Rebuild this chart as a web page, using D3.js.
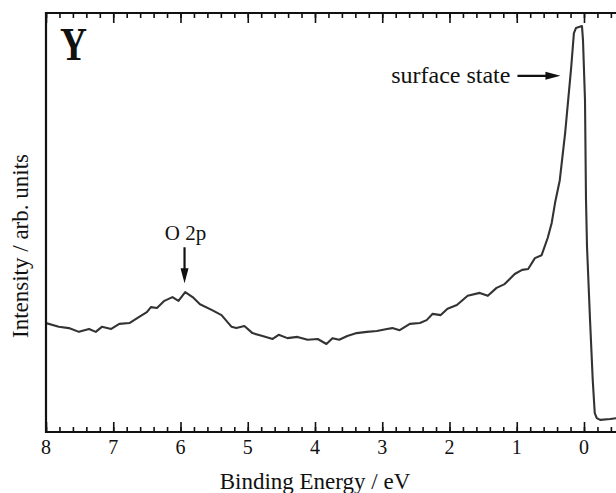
<!DOCTYPE html>
<html lang="en">
<head>
    <meta charset="UTF-8">
    <title>Y surface state spectrum</title>
    <script src="https://cdnjs.cloudflare.com/ajax/libs/d3/7.8.5/d3.min.js"></script>
    <style>
        * {
            margin: 0;
            padding: 0;
        }

        body {
            background-color: white;
            overflow: hidden;
        }

        text {
            font-family: 'Liberation Serif', 'Times New Roman', serif;
            fill: #111;
        }
    </style>
</head>
<body>
    <div id="chart"></div>

    <script>
        // Spectrum: binding energy (eV) and intensity (arb. units)
        const energy = [
            8.00, 7.81, 7.66, 7.51, 7.36, 7.26, 7.17, 7.03, 6.91, 6.76,
            6.62, 6.50, 6.44, 6.35, 6.24, 6.12, 6.03, 5.93, 5.82, 5.71,
            5.53, 5.39, 5.24, 5.17, 5.05, 4.93, 4.78, 4.63, 4.54, 4.41,
            4.26, 4.11, 3.96, 3.83, 3.74, 3.64, 3.52, 3.38, 3.23, 3.08,
            2.93, 2.85, 2.74, 2.59, 2.44, 2.34, 2.25, 2.13, 2.03, 1.89,
            1.73, 1.55, 1.43, 1.30, 1.18, 1.03, 0.92, 0.83, 0.73, 0.63,
            0.54, 0.48, 0.43, 0.36, 0.28, 0.19, 0.15, 0.12, 0.03, 0.015,
            -0.015, -0.03, -0.045, -0.09, -0.13, -0.16, -0.19, -0.24, -0.39, -0.48
        ];
        const intensity = [
            26.0, 25.1, 24.8, 23.9, 24.6, 23.9, 25.1, 24.6, 25.8, 26.0,
            27.4, 28.6, 29.8, 29.6, 31.3, 32.2, 31.3, 33.4, 32.2, 30.5,
            29.1, 27.9, 25.1, 24.8, 25.3, 23.6, 22.9, 22.2, 23.2, 22.4,
            22.7, 22.0, 22.2, 21.0, 22.4, 22.0, 22.9, 23.6, 23.9, 24.1,
            24.6, 24.8, 24.3, 25.8, 26.0, 26.7, 28.2, 27.9, 29.4, 30.3,
            32.5, 33.2, 32.5, 34.4, 35.3, 37.7, 38.7, 38.9, 41.5, 42.2,
            46.3, 49.9, 54.7, 60.1, 71.4, 87.1, 95.2, 96.4, 96.9, 93.6,
            79.2, 55.4, 44.2, 26.7, 12.4, 4.5, 3.3, 2.9, 3.1, 3.3
        ];
        const majorTicks = [8, 7, 6, 5, 4, 3, 2, 1, 0];
        const minorTicks = d3.range(8, -0.5, -0.2).map(v => +v.toFixed(1));

        const panelLabel = 'Y';
        const xTitle = 'Binding Energy / eV';
        const yTitle = 'Intensity / arb. units';
        const notes = [
            { text: 'surface state', energy: 0.35, value: 85 },
            { text: 'O 2p', energy: 5.94, value: 35.5 }
        ];

        const width = 616;
        const height = 493;
        const margin = { top: 13, right: 0, bottom: 61, left: 46 };

        const svg = d3.select('#chart')
            .append('svg')
            .attr('width', width)
            .attr('height', height);

        const x = d3.scaleLinear()
            .domain([8, -0.476])
            .range([margin.left, width - margin.right]);

        const y = d3.scaleLinear()
            .domain([0, 100])
            .range([height - margin.bottom, margin.top]);

        const data = energy.map((e, i) => ({ e, v: intensity[i] }));

        svg.append('defs').append('clipPath')
            .attr('id', 'plot-clip')
            .append('rect')
            .attr('x', margin.left)
            .attr('y', margin.top)
            .attr('width', width - margin.left - margin.right)
            .attr('height', height - margin.top - margin.bottom);

        // Spectrum
        const line = d3.line()
            .x(d => x(d.e))
            .y(d => y(d.v));

        svg.append('path')
            .datum(data)
            .attr('clip-path', 'url(#plot-clip)')
            .attr('fill', 'none')
            .attr('stroke', '#333')
            .attr('stroke-width', 2.1)
            .attr('stroke-linejoin', 'round')
            .attr('d', line);

        // Bottom axis, ticks pointing inward
        const bottomAxis = svg.append('g')
            .attr('transform', `translate(0,${height - margin.bottom})`);

        bottomAxis.call(d3.axisTop(x).tickValues(minorTicks).tickSize(5).tickFormat(''))
            .call(g => g.select('.domain').remove());
        bottomAxis.append('g')
            .call(d3.axisTop(x).tickValues(majorTicks).tickSize(10).tickFormat(''))
            .call(g => g.select('.domain').remove());
        bottomAxis.selectAll('line').attr('stroke', '#111').attr('stroke-width', 1.6);

        bottomAxis.selectAll('.tick-label')
            .data(majorTicks)
            .enter()
            .append('text')
            .attr('class', 'tick-label')
            .attr('x', d => x(d))
            .attr('y', 22)
            .attr('text-anchor', 'middle')
            .style('font-size', '20px')
            .text(d => d);

        // Top axis, ticks pointing inward
        const topAxis = svg.append('g')
            .attr('transform', `translate(0,${margin.top})`);

        topAxis.call(d3.axisBottom(x).tickValues(minorTicks).tickSize(5).tickFormat(''))
            .call(g => g.select('.domain').remove());
        topAxis.append('g')
            .call(d3.axisBottom(x).tickValues(majorTicks).tickSize(10).tickFormat(''))
            .call(g => g.select('.domain').remove());
        topAxis.selectAll('line').attr('stroke', '#111').attr('stroke-width', 1.6);

        // Frame lines
        svg.append('path')
            .attr('fill', 'none')
            .attr('stroke', '#111')
            .attr('stroke-width', 2.2)
            .attr('d', `M${width},${margin.top}H${margin.left}V${height - margin.bottom}H${width}`);

        // Titles
        svg.append('text')
            .attr('x', x(4))
            .attr('y', 489)
            .attr('text-anchor', 'middle')
            .style('font-size', '23px')
            .text(xTitle);

        svg.append('text')
            .attr('transform', `translate(28,${246}) rotate(-90)`)
            .attr('text-anchor', 'middle')
            .style('font-size', '23px')
            .text(yTitle);

        svg.append('text')
            .attr('x', 60)
            .attr('y', 60)
            .attr('textLength', 27)
            .attr('lengthAdjust', 'spacingAndGlyphs')
            .style('font-size', '47px')
            .style('font-weight', 'bold')
            .text(panelLabel);

        // Annotations with arrows
        const ss = notes[0];
        svg.append('text')
            .attr('x', x(ss.energy) - 50)
            .attr('y', y(ss.value) + 7)
            .attr('text-anchor', 'end')
            .style('font-size', '24px')
            .text(ss.text);
        svg.append('line')
            .attr('x1', x(ss.energy) - 43)
            .attr('x2', x(ss.energy) - 10)
            .attr('y1', y(ss.value))
            .attr('y2', y(ss.value))
            .attr('stroke', '#111')
            .attr('stroke-width', 2.2);
        svg.append('path')
            .attr('fill', '#111')
            .attr('d', `M${x(ss.energy)},${y(ss.value)}l-15,-4v8z`);

        const o2p = notes[1];
        svg.append('text')
            .attr('x', x(o2p.energy) + 1)
            .attr('y', y(o2p.value) - 43)
            .attr('text-anchor', 'middle')
            .style('font-size', '21px')
            .text(o2p.text);
        svg.append('line')
            .attr('x1', x(o2p.energy))
            .attr('x2', x(o2p.energy))
            .attr('y1', y(o2p.value) - 36)
            .attr('y2', y(o2p.value) - 10)
            .attr('stroke', '#111')
            .attr('stroke-width', 2.2);
        svg.append('path')
            .attr('fill', '#111')
            .attr('d', `M${x(o2p.energy)},${y(o2p.value)}l-4,-15h8z`);
    </script>
</body>
</html>
